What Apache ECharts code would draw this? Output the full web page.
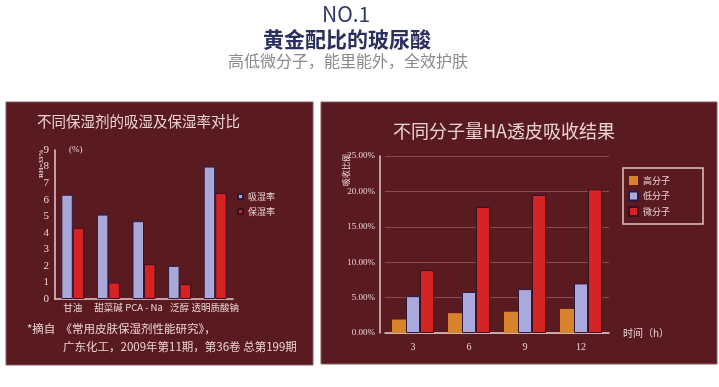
<!DOCTYPE html>
<html><head><meta charset="utf-8">
<script src="https://cdn.jsdelivr.net/npm/echarts@6/dist/echarts.min.js"></script>
<style>html,body{margin:0;padding:0;background:#fff}#c{width:719px;height:387px}</style>
</head><body><div id="c"></div>
<script>
// ---- data ----
const leftCategories = ['甘油', '甜菜碱', 'PCA - Na', '泛醇', '透明质酸钠'];
const absorbRate = [6.3, 5.1, 4.7, 2.0, 8.0];   // 吸湿率
const retainRate = [4.3, 1.0, 2.1, 0.9, 6.4];   // 保湿率
const leftYTicks = [0, 9, 1]; // min, max, interval

const rightCategories = ['3', '6', '9', '12'];
const highMW = [1.9, 2.8, 3.0, 3.4];     // 高分子 (%)
const lowMW = [5.2, 5.8, 6.2, 7.0];      // 低分子 (%)
const microMW = [8.9, 17.8, 19.5, 20.3]; // 微分子 (%)
const rightYTicks = [0, 25, 5];

const CJK = '"Noto Sans CJK SC", "Noto Sans", sans-serif';
const SERIF = '"Liberation Serif", "DejaVu Serif", "Noto Sans CJK SC", serif';
const PANEL = '#5a1b20';
const LIGHT = '#ead4d4';
const AXIS = '#e9cccc';

const chart = echarts.init(document.getElementById('c'));
chart.setOption({
  backgroundColor: '#ffffff',
  animation: false,
  title: [
    { text: 'NO.1', left: 317, top: -1, textStyle: { fontFamily: CJK, fontSize: 21, fontWeight: 'normal', color: '#2f3766' } },
    { text: '黄金配比的玻尿酸', left: 258, top: 24, textStyle: { fontFamily: CJK, fontSize: 21, fontWeight: 'bold', color: '#2a2f60' } },
    { text: '高低微分子，能里能外，全效护肤', left: 223, top: 48, textStyle: { fontFamily: CJK, fontSize: 16, fontWeight: 'normal', color: '#8a8a8a' } },
    { text: '不同保湿剂的吸湿及保湿率对比', left: 32, top: 109, textStyle: { fontFamily: CJK, fontSize: 14.5, fontWeight: 'normal', color: LIGHT } },
    { text: '不同分子量HA透皮吸收结果', left: 388, top: 117, textStyle: { fontFamily: CJK, fontSize: 18, fontWeight: 'normal', color: LIGHT } }
  ],
  graphic: [
    { type: 'rect', z: -10, shape: { x: 6, y: 102, width: 307, height: 263 }, style: { fill: PANEL, stroke: '#8a5a5e', lineWidth: 1 } },
    { type: 'rect', z: -10, shape: { x: 321, y: 102, width: 396, height: 262 }, style: { fill: PANEL, stroke: '#8a5a5e', lineWidth: 1 } },
    { type: 'text', x: 38, y: 178, rotation: Math.PI / 2, style: { text: 'RH=33%', fill: LIGHT, font: 'bold 7px ' + SERIF } },
    { type: 'text', x: 69, y: 145, style: { text: '(%)', fill: LIGHT, font: '9px ' + SERIF } },
    { type: 'text', x: 342, y: 186, rotation: Math.PI / 2, style: { text: '吸收比例', fill: LIGHT, font: '8px ' + CJK } },
    { type: 'text', x: 27, y: 323, style: { text: '*摘自  《常用皮肤保湿剂性能研究》，', fill: LIGHT, font: '11.5px ' + CJK } },
    { type: 'text', x: 63, y: 341, style: { text: '广东化工，2009年第11期，第36卷 总第199期', fill: LIGHT, font: '11.5px ' + CJK } }
  ],
  legend: [
    {
      data: ['吸湿率', '保湿率'], left: 237, top: 192, orient: 'vertical', padding: 0,
      icon: 'rect', itemWidth: 5, itemHeight: 5, itemGap: 6,
      textStyle: { color: LIGHT, fontSize: 9, fontFamily: CJK }
    },
    {
      data: ['高分子', '低分子', '微分子'], left: 623, top: 168, orient: 'vertical',
      icon: 'rect', itemWidth: 9, itemHeight: 9, itemGap: 4.5,
      padding: [7, 33, 7, 5], borderColor: '#e3c3c3', borderWidth: 1.5,
      textStyle: { color: LIGHT, fontSize: 9, fontFamily: CJK, lineHeight: 11 }
    }
  ],
  grid: [
    { left: 55, top: 150, width: 178, height: 149 },
    { left: 385, top: 156, width: 224, height: 177 }
  ],
  xAxis: [
    {
      gridIndex: 0, type: 'category', data: leftCategories,
      axisLine: { lineStyle: { color: AXIS, width: 1.5 } }, axisTick: { show: false },
      axisLabel: { color: LIGHT, fontSize: 9.5, fontFamily: CJK, margin: 4, interval: 0 }
    },
    {
      gridIndex: 1, type: 'category', data: rightCategories,
      name: '时间（h）', nameLocation: 'end', nameGap: 14,
      nameTextStyle: { color: LIGHT, fontSize: 10, fontFamily: CJK },
      axisLine: { lineStyle: { color: AXIS, width: 1.5 } }, axisTick: { show: false },
      axisLabel: { color: LIGHT, fontSize: 10, fontFamily: SERIF, margin: 9 }
    }
  ],
  yAxis: [
    {
      gridIndex: 0, type: 'value', min: leftYTicks[0], max: leftYTicks[1], interval: leftYTicks[2],
      axisLine: { show: true, lineStyle: { color: AXIS, width: 1.5 } }, axisTick: { show: false },
      splitLine: { show: false },
      axisLabel: { color: LIGHT, fontSize: 11, fontFamily: SERIF, margin: 6 }
    },
    {
      gridIndex: 1, type: 'value', min: rightYTicks[0], max: rightYTicks[1], interval: rightYTicks[2],
      offset: 5,
      axisLine: { show: true, lineStyle: { color: AXIS, width: 1.5 } }, axisTick: { show: false },
      splitLine: { show: true, lineStyle: { color: '#8c4a4f', width: 1 } },
      axisLabel: { color: LIGHT, fontSize: 9, fontFamily: SERIF, margin: 5, formatter: v => v.toFixed(2) + '%' }
    }
  ],
  series: [
    { name: '吸湿率', type: 'bar', xAxisIndex: 0, yAxisIndex: 0, data: absorbRate, barWidth: 11.5, barGap: '0%',
      itemStyle: { color: '#aaa8d8', borderColor: '#2c1a3e', borderWidth: 1 } },
    { name: '保湿率', type: 'bar', xAxisIndex: 0, yAxisIndex: 0, data: retainRate, barWidth: 11.5, barGap: '0%',
      itemStyle: { color: '#d62222', borderColor: '#3a1020', borderWidth: 1 } },
    { name: '高分子', type: 'bar', xAxisIndex: 1, yAxisIndex: 1, data: highMW, barWidth: 14, barGap: '0%',
      itemStyle: { color: '#d8832c' } },
    { name: '低分子', type: 'bar', xAxisIndex: 1, yAxisIndex: 1, data: lowMW, barWidth: 14, barGap: '0%',
      itemStyle: { color: '#aba9dc', borderColor: '#2c1a3e', borderWidth: 1 } },
    { name: '微分子', type: 'bar', xAxisIndex: 1, yAxisIndex: 1, data: microMW, barWidth: 14, barGap: '0%',
      itemStyle: { color: '#d42424', borderColor: '#3a1020', borderWidth: 1 } }
  ]
});
</script></body></html>
